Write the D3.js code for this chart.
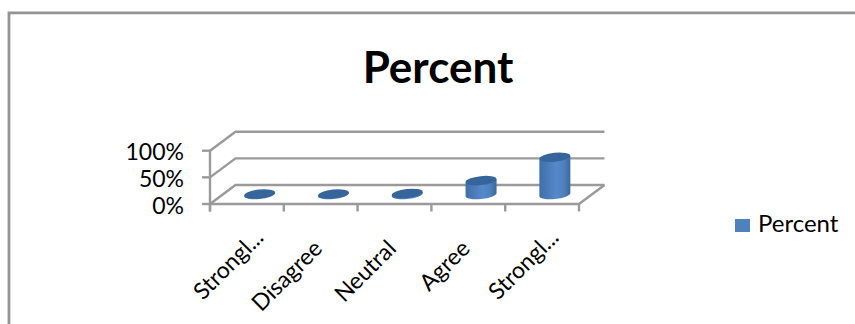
<!DOCTYPE html>
<html>
<head>
<meta charset="utf-8">
<script src="https://d3js.org/d3.v7.min.js"></script>
<style>
html,body{margin:0;padding:0;background:#fff;}
svg{display:block;}
text{font-family:Lato,"Open Sans",sans-serif;fill:#000;}
</style>
</head>
<body>
<svg id="chart" width="855" height="324"></svg>
<script>
// Survey responses shown as 3-D cylinders on a perspective floor
const categories = ["Strongl...", "Disagree", "Neutral", "Agree", "Strongl..."];
const percentValues = [1, 1, 2, 26, 70];
const yTicks = [0, 50, 100];
const seriesName = "Percent";

const svg = d3.select("#chart");
const grid = "#9a9a9a";

const plot = {left: 210, right: 579, floor: 204, top: 150.7, depthX: 25.5, depthY: -19};

const x = d3.scaleBand().domain(d3.range(categories.length)).range([plot.left, plot.right]);
const y = d3.scaleLinear().domain([0, 100]).range([plot.floor, plot.top]);

// Outer chart frame
svg.append("path")
  .attr("d", "M9,324V12.8H855")
  .attr("fill", "none").attr("stroke", "#939393").attr("stroke-width", 2.8);

svg.append("text").attr("x", 438).attr("y", 83)
  .attr("text-anchor", "middle")
  .attr("font-size", 44).attr("font-weight", 700)
  .text(seriesName);

// Back-wall gridlines with their side-wall returns
const line = d3.line();
const walls = svg.append("g").attr("fill", "none").attr("stroke", grid).attr("stroke-width", 2.4);
yTicks.forEach(t => {
  const yy = y(t);
  walls.append("path").attr("d", line([
    [plot.left, yy],
    [plot.left + plot.depthX, yy + plot.depthY],
    [plot.right + plot.depthX, yy + plot.depthY]
  ]));
});

// Floor edges, front axis and right return
walls.append("path").attr("d", line([
  [plot.left, plot.floor],
  [plot.right, plot.floor],
  [plot.right + plot.depthX, plot.floor + plot.depthY]
]));

// Value axis and its ticks
walls.append("path").attr("d", line([[plot.left, plot.top], [plot.left, plot.floor + 7.5]]));
yTicks.forEach(t => {
  walls.append("path").attr("d", line([[plot.left - 8, y(t)], [plot.left, y(t)]]));
  svg.append("text").attr("x", 184).attr("y", y(t) + 9.5)
    .attr("text-anchor", "end").attr("font-size", 23).text(t + "%");
});

// Category ticks
d3.range(categories.length + 1).forEach(i => {
  const xx = plot.left + x.step() * i;
  walls.append("path").attr("d", line([[xx, plot.floor], [xx, plot.floor + 7.5]]));
});

// Category labels, rotated along the diagonal; truncated ones sit further up and right
categories.forEach((c, i) => {
  const cut = c.endsWith("...");
  const ax = x(i) + x.step() / 2 + (cut ? 18 : 3);
  const ay = cut ? 239 : 250;
  svg.append("text")
    .attr("transform", `translate(${ax},${ay}) rotate(-45)`)
    .attr("text-anchor", "end")
    .attr("font-size", 23)
    .text(c);
});

// Cylinder shading
const defs = svg.append("defs");
const body = defs.append("linearGradient").attr("id", "cylBody");
[[0, "#3f6fa8"], [0.55, "#5689ca"], [0.8, "#4f80bd"], [1, "#3a689f"]].forEach(([o, col]) =>
  body.append("stop").attr("offset", o).attr("stop-color", col));

const rx = 15.5, ry = 4.5, tilt = -6;
const bars = svg.append("g");
percentValues.forEach((v, i) => {
  const cx = x(i) + x.step() / 2 + plot.depthX / 2;
  const base = plot.floor + plot.depthY / 2;
  const topY = base - (y(0) - y(v));
  const g = bars.append("g");
  if (v > 0) {
    g.append("path")
      .attr("d", `M${cx - rx},${topY + 1.5}L${cx - rx},${base + 1.5}A${rx},${ry} ${tilt} 0 0 ${cx + rx},${base - 1.5}L${cx + rx},${topY - 1.5}Z`)
      .attr("fill", "url(#cylBody)");
  }
  g.append("ellipse")
    .attr("transform", `translate(${cx},${topY}) rotate(${tilt})`)
    .attr("rx", rx).attr("ry", ry)
    .attr("fill", "#36659c");
});

// Legend
svg.append("rect").attr("x", 735).attr("y", 219).attr("width", 15).attr("height", 13).attr("fill", "#4f81bd");
svg.append("text").attr("x", 758).attr("y", 232).attr("font-size", 24).text(seriesName);
</script>
</body>
</html>
